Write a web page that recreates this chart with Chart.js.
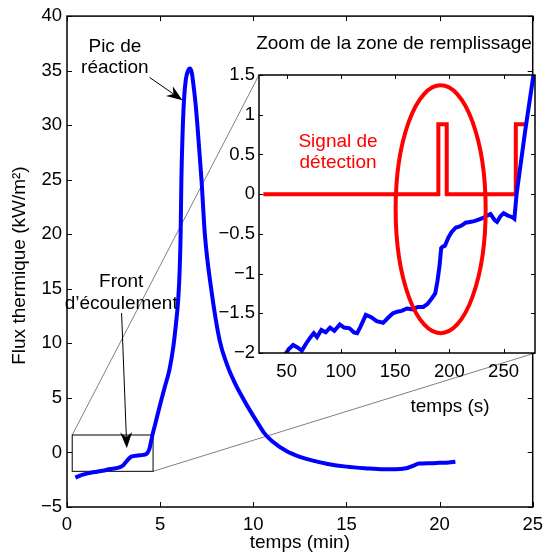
<!DOCTYPE html>
<html>
<head>
<meta charset="utf-8">
<script src="https://cdn.jsdelivr.net/npm/chart.js@4.4.0/dist/chart.umd.min.js"></script>
<style>
    body { margin: 0; background: #fff; }
    #wrap { position: relative; width: 550px; height: 556px; }
    canvas { position: absolute; left: 0; top: 0; }
</style>
</head>
<body>
<div id="wrap">
    <canvas id="mainChart" width="550" height="556"></canvas>
    <canvas id="zoomChart" width="550" height="556"></canvas>
</div>
<script>
// Main curve: time (min) / heat flux (kW/m²)
const mainTime = [0.45, 0.8, 1.2, 1.6, 2.0, 2.3, 2.6, 2.85, 3.0, 3.15, 3.3, 3.45, 3.8, 4.1, 4.3, 4.42,
    4.5, 4.6, 4.75, 5.0, 5.25, 5.5, 5.7, 5.85, 5.97, 6.05, 6.1, 6.14, 6.2, 6.28, 6.38, 6.5, 6.6,
    6.7, 6.78, 6.9, 7.0, 7.22, 7.4, 7.74, 8.19, 8.6, 9.0, 9.4, 9.7, 10.2, 10.6, 11.0, 11.8, 12.5,
    13.2, 14.0, 15.0, 16.0, 17.0, 17.6, 18.2, 18.6, 18.9, 19.5, 20.0, 20.5, 20.85];
const mainFlux = [-2.3, -2.05, -1.88, -1.76, -1.65, -1.52, -1.45, -1.35, -1.2, -0.9, -0.6, -0.38, -0.28, -0.22, -0.08, 0.3,
    0.9, 1.7, 2.7, 4.4, 6.0, 7.6, 9.6, 11.8, 14.0, 16.8, 20, 25, 29, 32.3, 34.2, 35.0, 35.2,
    34.8, 33.8, 32.0, 30, 25, 20, 15, 10.3, 8.0, 6.4, 5.1, 4.2, 2.8, 1.75, 1.05, 0.1, -0.4,
    -0.75, -1.05, -1.3, -1.45, -1.55, -1.55, -1.45, -1.2, -1.02, -0.98, -0.95, -0.92, -0.85];
const mainXTicks = [0, 5, 10, 15, 20, 25];
const mainYTicks = [-5, 0, 5, 10, 15, 20, 25, 30, 35, 40];

// Zoom on the filling zone: time (s)
const zoomTime = [48.5, 52, 56, 60, 64, 68, 72, 75, 78, 82, 86, 90, 94, 99, 103, 108, 112, 115, 118, 123,
    128, 133, 139, 144, 148, 152, 156, 161, 166, 171, 176, 180, 184, 187, 189, 191, 192.5, 194, 196, 199,
    202, 206, 209, 212, 215, 219, 223, 227, 231, 235, 238, 242, 244, 247, 250, 254, 258, 260, 262, 270, 277.6];
const zoomFlux = [-2.02, -1.95, -1.9, -1.93, -1.97, -1.88, -1.8, -1.75, -1.8, -1.71, -1.74, -1.68, -1.72, -1.64, -1.68, -1.69, -1.74, -1.75, -1.67, -1.52,
    -1.55, -1.6, -1.62, -1.55, -1.5, -1.48, -1.47, -1.44, -1.45, -1.42, -1.42, -1.38, -1.31, -1.25, -1.1, -0.9, -0.68, -0.66, -0.65, -0.55,
    -0.48, -0.42, -0.41, -0.39, -0.36, -0.35, -0.34, -0.32, -0.3, -0.27, -0.25, -0.33, -0.35, -0.28, -0.24, -0.27, -0.29, -0.31, 0.0, 0.8, 1.5];
const signalTime = [28.5, 189.9, 189.9, 197.6, 197.6, 261.3, 261.3, 271.4];
const signalLevel = [0, 0, 0.88, 0.88, 0, 0, 0.88, 0.88];
const zoomXTicks = [50, 100, 150, 200, 250];
const zoomYTicks = [-2, -1.5, -1, -0.5, 0, 0.5, 1, 1.5];

// zoom rectangle on the main plot (min, kW/m²) and the red ellipse on the zoom (s, kW/m²)
const zoomBoxTime = [0.28, 4.62];
const zoomBoxFlux = [-1.73, 1.6];
const ellipseCenter = [192, -0.19];
const ellipseRadius = [41.5, 1.56];

const FONT = '"Liberation Sans", Arial, sans-serif';
const minus = v => String(v).replace('-', '\u2212');
const pts = (xs, ys) => xs.map((x, i) => ({ x: x, y: ys[i] }));

function frameTicks(len) {
    return {
        id: 'frameTicks',
        afterDraw(chart) {
            const { ctx, chartArea: a, scales: { x, y } } = chart;
            ctx.save();
            ctx.strokeStyle = '#000';
            ctx.lineWidth = 1;
            ctx.beginPath();
            x.ticks.forEach(t => {
                const px = Math.round(x.getPixelForValue(t.value)) + 0.5;
                ctx.moveTo(px, a.bottom); ctx.lineTo(px, a.bottom - len);
                ctx.moveTo(px, a.top); ctx.lineTo(px, a.top + len);
            });
            y.ticks.forEach(t => {
                const py = Math.round(y.getPixelForValue(t.value)) + 0.5;
                ctx.moveTo(a.left, py); ctx.lineTo(a.left + len, py);
                ctx.moveTo(a.right, py); ctx.lineTo(a.right - len, py);
            });
            ctx.stroke();
            ctx.lineWidth = 1.5;
            ctx.strokeRect(a.left, a.top, a.right - a.left, a.bottom - a.top);
            ctx.restore();
        }
    };
}

function drawLines(ctx, lines, x, y, dy, color) {
    ctx.fillStyle = color;
    ctx.font = '19px ' + FONT;
    ctx.textAlign = 'center';
    ctx.textBaseline = 'alphabetic';
    lines.forEach((l, i) => ctx.fillText(l, x, y + i * dy));
}

function arrow(ctx, x0, y0, x1, y1) {
    const ang = Math.atan2(y1 - y0, x1 - x0);
    const L = 16, W = 6, N = 11;
    ctx.strokeStyle = '#000';
    ctx.fillStyle = '#000';
    ctx.lineWidth = 1;
    ctx.beginPath();
    ctx.moveTo(x0, y0);
    ctx.lineTo(x1 - N * Math.cos(ang), y1 - N * Math.sin(ang));
    ctx.stroke();
    const c = Math.cos(ang), s = Math.sin(ang);
    ctx.beginPath();
    ctx.moveTo(x1, y1);
    ctx.lineTo(x1 - L * c - W * s, y1 - L * s + W * c);
    ctx.lineTo(x1 - N * c, y1 - N * s);
    ctx.lineTo(x1 - L * c + W * s, y1 - L * s - W * c);
    ctx.closePath();
    ctx.fill();
}

const axisX = (ticks, min, max, pad, height) => ({
    type: 'linear', min: min, max: max,
    grid: { display: false, drawTicks: false },
    border: { display: false },
    afterBuildTicks: s => { s.ticks = ticks.map(v => ({ value: v })); },
    afterFit: s => { s.height = height; },
    ticks: { color: '#000', font: { family: FONT, size: 18.5 }, padding: pad, maxRotation: 0, callback: minus }
});
const axisY = (ticks, min, max, pad, width) => ({
    type: 'linear', min: min, max: max,
    grid: { display: false, drawTicks: false },
    border: { display: false },
    afterBuildTicks: s => { s.ticks = ticks.map(v => ({ value: v })); },
    afterFit: s => { s.width = width; },
    ticks: { color: '#000', font: { family: FONT, size: 18.5 }, padding: pad, callback: minus }
});

// ---- zoom (inset) chart, on top
const zoomX = axisX(zoomXTicks, 24.5, 279, 8, 203);
const zoomY = axisY(zoomYTicks, -2, 1.5, 4, 259);

const zoomChart = new Chart(document.getElementById('zoomChart'), {
    type: 'line',
    data: {
        datasets: [
            { data: pts(zoomTime, zoomFlux), borderColor: '#0000ff', borderWidth: 4, pointRadius: 0, tension: 0 },
            { data: pts(signalTime, signalLevel), borderColor: '#ff0000', borderWidth: 4, pointRadius: 0, tension: 0 }
        ]
    },
    options: {
        responsive: false,
        animation: false,
        layout: { padding: { top: 75, right: 15, left: 0, bottom: 0 } },
        plugins: { legend: { display: false }, tooltip: { enabled: false } },
        scales: { x: zoomX, y: zoomY }
    },
    plugins: [{
        id: 'zoomDeco',
        beforeDatasetsDraw(chart) {
            const { ctx, chartArea: a } = chart;
            ctx.save();
            ctx.fillStyle = '#fff';
            ctx.fillRect(a.left, a.top, a.right - a.left, a.bottom - a.top);
            ctx.restore();
        },
        afterDatasetsDraw(chart) {
            const { ctx, chartArea: a, scales: { x, y } } = chart;
            ctx.save();
            const cx = x.getPixelForValue(ellipseCenter[0]);
            const cy = y.getPixelForValue(ellipseCenter[1]);
            const rx = x.getPixelForValue(ellipseCenter[0] + ellipseRadius[0]) - cx;
            const ry = cy - y.getPixelForValue(ellipseCenter[1] + ellipseRadius[1]);
            ctx.strokeStyle = '#ff0000';
            ctx.lineWidth = 4;
            ctx.beginPath();
            ctx.ellipse(cx, cy, rx, ry, 0, 0, Math.PI * 2);
            ctx.stroke();
            drawLines(ctx, ['Signal de', 'détection'], x.getPixelForValue(97.4), y.getPixelForValue(0.596), 21.3, '#ff0000');
            drawLines(ctx, ['Zoom de la zone de remplissage'], x.getPixelForValue(149), a.top - 26, 0, '#000');
            drawLines(ctx, ['temps (s)'], x.getPixelForValue(200.7), a.bottom + 58.5, 0, '#000');
            ctx.restore();
        }
    }, frameTicks(4)]
});

// ---- main chart, below
const mainX = axisX(mainXTicks, 0, 25, 7, 49);
mainX.title = { display: true, text: 'temps (min)', color: '#000', font: { family: FONT, size: 19 }, padding: { top: 2, bottom: 2 } };
const mainY = axisY(mainYTicks, -5, 40, 5, 67);

new Chart(document.getElementById('mainChart'), {
    type: 'line',
    data: {
        datasets: [{
            data: pts(mainTime, mainFlux), borderColor: '#0000ff', borderWidth: 4,
            pointRadius: 0, cubicInterpolationMode: 'monotone'
        }]
    },
    options: {
        responsive: false,
        animation: false,
        layout: { padding: { top: 16, right: 11, left: 0, bottom: 0 } },
        plugins: { legend: { display: false }, tooltip: { enabled: false } },
        scales: { x: mainX, y: mainY }
    },
    plugins: [{
        id: 'mainDeco',
        beforeDatasetsDraw(chart) {
            const { ctx, scales: { x, y } } = chart;
            const z = zoomChart.chartArea;
            const bx0 = x.getPixelForValue(zoomBoxTime[0]), bx1 = x.getPixelForValue(zoomBoxTime[1]);
            const by0 = y.getPixelForValue(zoomBoxFlux[1]), by1 = y.getPixelForValue(zoomBoxFlux[0]);
            ctx.save();
            ctx.strokeStyle = '#808080';
            ctx.lineWidth = 1;
            ctx.beginPath();
            ctx.moveTo(bx0, by0); ctx.lineTo(z.left, z.top);
            ctx.moveTo(bx1, by1); ctx.lineTo(z.right, z.bottom);
            ctx.stroke();
            ctx.strokeStyle = '#000';
            ctx.strokeRect(bx0, by0, bx1 - bx0, by1 - by0);
            ctx.restore();
        },
        afterDatasetsDraw(chart) {
            const { ctx, chartArea: a, scales: { x, y } } = chart;
            ctx.save();
            drawLines(ctx, ['Pic de', 'réaction'], x.getPixelForValue(2.57), y.getPixelForValue(36.73), 21.6, '#000');
            drawLines(ctx, ['Front', 'd\u2019écoulement'], x.getPixelForValue(2.91), y.getPixelForValue(15.19), 22.3, '#000');
            arrow(ctx, x.getPixelForValue(4.43), y.getPixelForValue(34.38), x.getPixelForValue(6.2), y.getPixelForValue(32.29));
            arrow(ctx, x.getPixelForValue(2.93), y.getPixelForValue(12.78), x.getPixelForValue(3.21), y.getPixelForValue(0.38));
            // y axis title
            ctx.translate(19.5, (a.top + a.bottom) / 2 + 4);
            ctx.rotate(-Math.PI / 2);
            ctx.fillStyle = '#000';
            ctx.font = '19px ' + FONT;
            ctx.textAlign = 'center';
            ctx.textBaseline = 'middle';
            ctx.fillText('Flux thermique (kW/m²)', 0, 0);
            ctx.restore();
        }
    }, frameTicks(5)]
});
</script>
</body>
</html>
